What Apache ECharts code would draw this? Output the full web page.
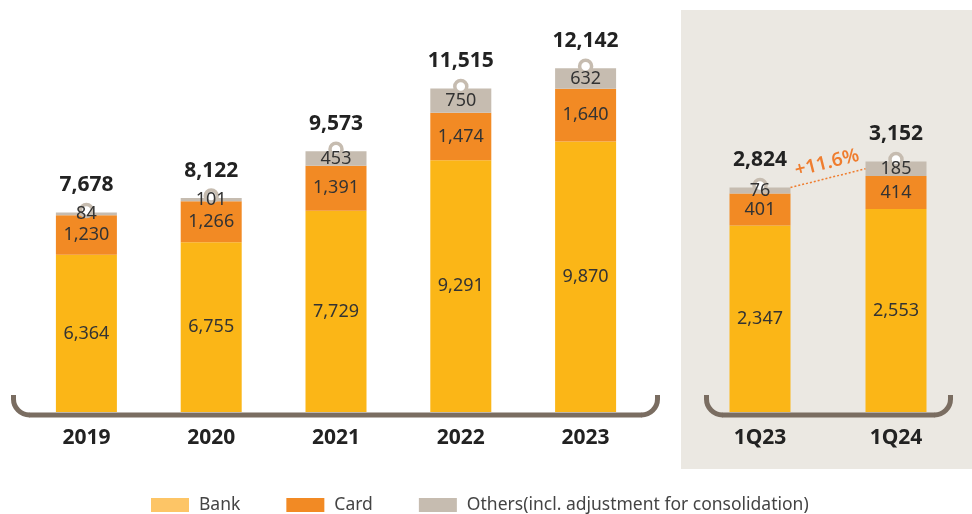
<!DOCTYPE html>
<html>
<head>
<meta charset="utf-8">
<script src="https://cdn.jsdelivr.net/npm/echarts@6/dist/echarts.min.js"></script>
<style>
  html, body { margin: 0; padding: 0; background: #fff; }
  #chart { width: 972px; height: 514px; }
</style>
</head>
<body>
<div id="chart"></div>
<script>
// yearly figures
const years = ['2019', '2020', '2021', '2022', '2023'];
const bankYear = [6364, 6755, 7729, 9291, 9870];
const cardYear = [1230, 1266, 1391, 1474, 1640];
const othersYear = [84, 101, 453, 750, 632];
const totalYear = [7678, 8122, 9573, 11515, 12142];

// quarterly figures
const quarters = ['1Q23', '1Q24'];
const bankQ = [2347, 2553];
const cardQ = [401, 414];
const othersQ = [76, 185];
const totalQ = [2824, 3152];

const names = ['Bank', 'Card', 'Others(incl. adjustment for consolidation)'];

const FONT = 'Noto Sans';
const COLORS = ['#fbb617', '#f28a24', '#c6bcb0'];
const BRACKET = '#7a6d61';

const chart = echarts.init(document.getElementById('chart'));
const fmt = p => Number(Array.isArray(p.value) ? p.value[1] : p.value).toLocaleString('en-US');

function stackSeries(idx, parts, total) {
    const out = [];
    // coloured segments
    parts.forEach((d, i) => out.push({
        name: names[i], type: 'bar', stack: 's' + idx, barWidth: 61, barGap: '-100%',
        xAxisIndex: idx, yAxisIndex: idx, data: d, itemStyle: { color: COLORS[i] }
    }));
    // ring marker + total on top of each stack
    out.push({
        name: 'Total', type: 'scatter', xAxisIndex: idx, yAxisIndex: idx, data: total,
        symbol: 'circle', symbolSize: 12, symbolOffset: [0, -2], z: 3,
        itemStyle: { color: '#fff', borderColor: COLORS[2], borderWidth: 3.5, opacity: 1 },
        label: {
            show: true, position: 'top', distance: 7, formatter: fmt,
            fontFamily: FONT, fontSize: 21, fontWeight: 'bold', color: '#222'
        },
        emphasis: { disabled: true }
    });
    // segment values, drawn above the rings
    parts.forEach((d, i) => out.push({
        name: 'lbl' + i, type: 'bar', stack: 'l' + idx, barWidth: 61, barGap: '-100%', z: 4, silent: true,
        xAxisIndex: idx, yAxisIndex: idx, data: d, itemStyle: { color: 'rgba(0,0,0,0)' },
        label: { show: true, position: 'inside', formatter: fmt, fontFamily: FONT, fontSize: 18, color: '#333' }
    }));
    return out;
}

const catAxis = (idx, data) => ({
    type: 'category', gridIndex: idx, data: data,
    axisLine: { show: false }, axisTick: { show: false },
    axisLabel: { margin: 16, fontFamily: FONT, fontSize: 21, fontWeight: 'bold', color: '#222' }
});

// bracket-shaped base line under a panel
function bracket(x1, x2, yTop, yLine) {
    const r = 16;
    const st = { stroke: BRACKET, lineWidth: 5, fill: null };
    return [
        { type: 'line', z: 50, shape: { x1: x1, y1: yTop, x2: x1, y2: yLine - r + 0.5 }, style: st },
        { type: 'line', z: 50, shape: { x1: x2, y1: yTop, x2: x2, y2: yLine - r + 0.5 }, style: st },
        { type: 'line', z: 50, shape: { x1: x1 + r - 0.5, y1: yLine, x2: x2 - r + 0.5, y2: yLine }, style: st },
        { type: 'arc', z: 50, shape: { cx: x1 + r, cy: yLine - r, r: r, startAngle: Math.PI / 2, endAngle: Math.PI, clockwise: true }, style: st },
        { type: 'arc', z: 50, shape: { cx: x2 - r, cy: yLine - r, r: r, startAngle: 0, endAngle: Math.PI / 2, clockwise: true }, style: st }
    ];
}

const option = {
    animation: false,
    textStyle: { fontFamily: FONT },
    grid: [
        { left: 24, width: 624, top: 40.5, height: 371.5 },
        { left: 692, width: 272, top: 94, height: 318 }
    ],
    xAxis: [catAxis(0, years), catAxis(1, quarters)],
    yAxis: [
        { type: 'value', gridIndex: 0, min: 1500, max: 13000, show: false },
        { type: 'value', gridIndex: 1, min: 0, max: 4000, show: false }
    ],
    legend: {
        left: 151, top: 496, padding: 0, itemWidth: 38, itemHeight: 14, itemGap: 46,
        icon: 'rect', selectedMode: false,
        textStyle: { fontFamily: FONT, fontSize: 17.5, color: '#444', padding: [0, 0, 0, 5] },
        data: [{ name: names[0], itemStyle: { color: '#fdc566' } }, names[1], names[2]]
    },
    series: [].concat(
        stackSeries(0, [bankYear, cardYear, othersYear], totalYear),
        stackSeries(1, [bankQ, cardQ, othersQ], totalQ)
    )
};

chart.setOption(option);

// annotation between the two quarters, placed from the data through the axes
const q = { xAxisIndex: 1, yAxisIndex: 1 };
const p1 = chart.convertToPixel(q, [quarters[0], totalQ[0]]);
const p2 = chart.convertToPixel(q, [quarters[1], totalQ[1] - othersQ[1] / 2]);
const a = [p1[0] + 30.5, p1[1]];
const b = [p2[0] - 30.5, p2[1]];
const growth = (totalQ[1] / totalQ[0] - 1) * 100;
const ang = Math.atan2(a[1] - b[1], b[0] - a[0]);

chart.setOption({
    graphic: [
        { type: 'rect', z: -10, silent: true, shape: { x: 681, y: 10, width: 291, height: 459 }, style: { fill: '#ebe8e2' } },
        { type: 'line', z: 60, shape: { x1: a[0], y1: a[1], x2: b[0], y2: b[1] }, style: { stroke: '#ef7d2f', lineWidth: 1.5, lineDash: [2, 2] } },
        {
            type: 'text', z: 60, x: (a[0] + b[0]) / 2 - 1, y: (a[1] + b[1]) / 2 - 15, rotation: ang,
            style: { text: '+' + growth.toFixed(1) + '%', fill: '#ef7d2f', fontFamily: FONT, fontSize: 19, fontWeight: 600, align: 'center', verticalAlign: 'middle' }
        }
    ].concat(bracket(13.5, 657.5, 395, 415), bracket(706.5, 950.5, 395, 415))
});
</script>
</body>
</html>
